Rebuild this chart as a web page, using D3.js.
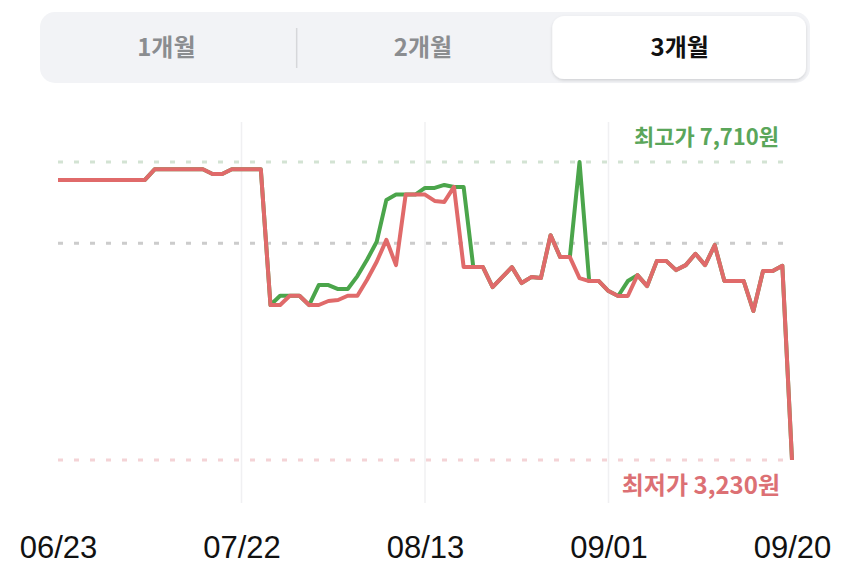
<!DOCTYPE html>
<html>
<head>
<meta charset="utf-8">
<script src="https://cdn.jsdelivr.net/npm/d3@7"></script>
<style>
  html, body { margin: 0; padding: 0; background: #fff; }
  svg { display: block; font-family: "Noto Sans CJK KR", "Noto Sans", sans-serif; }
</style>
</head>
<body>
<div class="chart_Container"></div>
<script>
// tabs on top
const tabs = ['1개월', '2개월', '3개월'];
const activeTab = 2;

// x tick labels (evenly spaced over the points)
const tickIdx = [0, 19, 38, 57, 76];
const tickLabels = ['06/23', '07/22', '08/13', '09/01', '09/20'];

// lowest price per day (red)
const lowPrice = [
  7440, 7440, 7440, 7440, 7440, 7440, 7440, 7440, 7440, 7440,
  7600, 7600, 7600, 7600, 7600, 7600, 7530, 7530, 7600, 7600,
  7600, 7600, 5560, 5560, 5700, 5700, 5560, 5560, 5620, 5635,
  5700, 5700, 5940, 6210, 6540, 6160, 7220, 7220, 7220, 7125,
  7110, 7335, 6130, 6130, 6130, 5830, 5980, 6130, 5890, 5980,
  5965, 6610, 6280, 6280, 5965, 5920, 5920, 5770, 5695, 5695,
  6010, 5845, 6220, 6220, 6085, 6160, 6330, 6160, 6460, 5920,
  5920, 5920, 5470, 6070, 6070, 6150, 3230
];

// highest price per day (green)
const highPrice = [
  7440, 7440, 7440, 7440, 7440, 7440, 7440, 7440, 7440, 7440,
  7600, 7600, 7600, 7600, 7600, 7600, 7530, 7530, 7600, 7600,
  7600, 7600, 5560, 5700, 5700, 5700, 5560, 5860, 5860, 5800,
  5800, 5995, 6240, 6510, 7140, 7220, 7220, 7220, 7320, 7320,
  7365, 7335, 7335, 6130, 6130, 5830, 5980, 6130, 5890, 5980,
  5965, 6610, 6280, 6280, 7710, 5920, 5920, 5770, 5695, 5920,
  6010, 5845, 6220, 6220, 6085, 6160, 6330, 6160, 6460, 5920,
  5920, 5920, 5470, 6070, 6070, 6150, 3230
];

// dotted reference lines: max, average, min
const refValues = [7710, 6490, 3230];
const refColors = ['#d3e3d3', '#cccccc', '#f4d3d6'];

const maxLabel = '최고가 7,710원';
const minLabel = '최저가 3,230원';

const width = 850, height = 567;
const margin = ({top:162, bottom:107, left:58, right:58});

const svg = d3.select('.chart_Container')
  .append('svg')
  .attr('width', width)
  .attr('height', height);

// ---- segmented control
const tabX = d3.scaleBand().domain(tabs).range([40, 810]);

svg.append('rect')
  .attr('x', 40).attr('y', 12)
  .attr('width', 770).attr('height', 71)
  .attr('rx', 15)
  .attr('fill', '#f2f3f6');

const defs = svg.append('defs');
const shadow = defs.append('filter').attr('id', 'shadow')
  .attr('x', '-10%').attr('y', '-20%').attr('width', '120%').attr('height', '150%');
shadow.append('feDropShadow')
  .attr('dx', 0).attr('dy', 1.5).attr('stdDeviation', 1.5)
  .attr('flood-color', '#000').attr('flood-opacity', 0.14);

svg.append('rect')
  .attr('x', tabX(tabs[activeTab]) - 1).attr('y', 16)
  .attr('width', tabX.bandwidth() - 3).attr('height', 63)
  .attr('rx', 12)
  .attr('fill', '#fff')
  .attr('filter', 'url(#shadow)');

// divider between the two inactive tabs
svg.append('line')
  .attr('x1', tabX(tabs[1])).attr('x2', tabX(tabs[1]))
  .attr('y1', 28).attr('y2', 68)
  .attr('stroke', '#d6d7da').attr('stroke-width', 1.5);

svg.selectAll('.tab')
  .data(tabs)
  .enter()
  .append('text')
  .attr('class', 'tab')
  .attr('x', d => tabX(d) + tabX.bandwidth() / 2 - 2)
  .attr('y', 56)
  .attr('text-anchor', 'middle')
  .attr('font-size', 24)
  .attr('font-weight', 700)
  .attr('fill', (d, i) => i === activeTab ? '#111' : '#8b8d90')
  .text(d => d);

// ---- scales
const xScale = d3.scaleLinear()
  .domain([0, lowPrice.length - 1])
  .range([margin.left, width - margin.right]);

const yScale = d3.scaleLinear()
  .domain([d3.min(refValues), d3.max(refValues)])
  .range([height - margin.bottom, margin.top]);

// faint vertical grid at the inner ticks
svg.selectAll('.vgrid')
  .data(tickIdx.slice(1, -1))
  .enter()
  .append('line')
  .attr('class', 'vgrid')
  .attr('x1', d => xScale(d)).attr('x2', d => xScale(d))
  .attr('y1', 122).attr('y2', 503)
  .attr('stroke', '#f0f0f2').attr('stroke-width', 1.5);

// dotted reference lines
svg.selectAll('.ref')
  .data(refValues)
  .enter()
  .append('line')
  .attr('class', 'ref')
  .attr('x1', xScale(0)).attr('x2', xScale(lowPrice.length - 1))
  .attr('y1', d => yScale(d)).attr('y2', d => yScale(d))
  .attr('stroke', (d, i) => refColors[i])
  .attr('stroke-width', 3)
  .attr('stroke-dasharray', '5,11');

// lines
const line = d3.line()
  .x((d, i) => xScale(i))
  .y(d => yScale(d));

svg.append('path')
  .datum(highPrice)
  .attr('fill', 'none')
  .attr('stroke', '#4ba54b')
  .attr('stroke-width', 4)
  .attr('stroke-linejoin', 'round')
  .attr('d', line);

svg.append('path')
  .datum(lowPrice)
  .attr('fill', 'none')
  .attr('stroke', '#e06a6a')
  .attr('stroke-width', 4)
  .attr('stroke-linejoin', 'round')
  .attr('d', line);

// max / min labels
svg.append('text')
  .attr('x', 779).attr('y', yScale(d3.max(refValues)) - 17)
  .attr('text-anchor', 'end')
  .attr('font-size', 22)
  .attr('font-weight', 700)
  .attr('fill', '#5aa65a')
  .text(maxLabel);

svg.append('text')
  .attr('x', 780).attr('y', yScale(d3.min(refValues)) + 34)
  .attr('text-anchor', 'end')
  .attr('font-size', 24)
  .attr('font-weight', 700)
  .attr('fill', '#dc7074')
  .text(minLabel);

// x axis labels
const xAxis = d3.axisBottom(xScale)
  .tickValues(tickIdx)
  .tickFormat((d, i) => tickLabels[i])
  .tickSize(0)
  .tickPadding(0);

const gx = svg.append('g')
  .attr('class', 'x-axis')
  .attr('transform', 'translate(0, 536)')
  .call(xAxis);

gx.select('.domain').remove();
gx.selectAll('text')
  .attr('dy', '0.72em')
  .attr('font-size', 31)
  .attr('font-family', '"Liberation Sans", Arial, sans-serif')
  .attr('fill', '#111');
</script>
</body>
</html>
